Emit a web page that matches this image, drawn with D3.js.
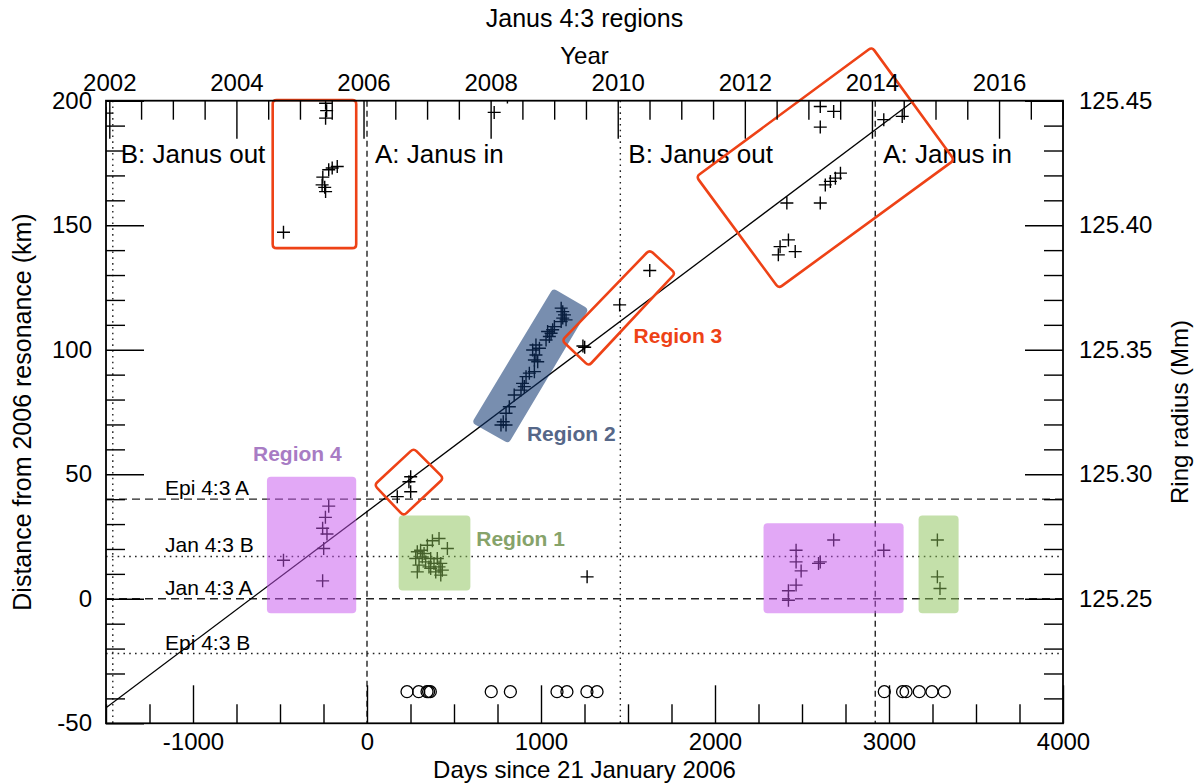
<!DOCTYPE html>
<html><head><meta charset="utf-8">
<script src="https://cdn.jsdelivr.net/npm/d3@7"></script>
<style>
body{margin:0;background:#fff}
svg text{font-family:"Liberation Sans",Arial,Helvetica,sans-serif;fill:#000}
</style>
</head><body>
<svg id="chart" width="1199" height="784"></svg>
<script>
// ---------------- DATA ----------------
const xTickMajor = [-1000, 0, 1000, 2000, 3000, 4000];
const yTickMajor = [-50, 0, 50, 100, 150, 200];
const yearTickMajor = [2002, 2004, 2006, 2008, 2010, 2012, 2014, 2016];
const radiusTickMajor = [125.25, 125.30, 125.35, 125.40, 125.45];

// crosses outside coloured regions
const plainDays = [-480,-238,-232,-238,-171,-200,-220,-254,-258,-243,-238,
  -1500, 731, 807, 1265,
  251, 241, 251, 174,
  1241, 1251, 1452, 1625,
  2605, 2682, 2605, 2721, 2692, 2663, 2634, 2605, 2413, 2422, 2374, 2461, 2364,
  2970, 3076];
const plainKm = [147.2,199,196,193,173.6,173,172.3,169.3,166.2,165.2,163.5,
  195, 195.3, 201.5, 8.8,
  49, 47, 43, 41,
  101.5, 101, 118, 131.8,
  197.7, 195.7, 189.4, 170.9, 168.9, 167.6, 166.2, 158.9, 158.9, 144.1, 141.4, 139.4, 138.1,
  192.4, 193.7];

// Region 1 crosses
const r1Days = [414,376,347,462,308,289,328,318,366,404,280,337,385,424,299,356,414,433,289,395,424,366,
  3278, 3278, 3293];
const r1Km = [24.2,23.3,21.5,20.2,19.5,18.9,18.2,16.8,16.2,16.2,16.2,14.8,14.2,14.2,13.5,12.8,12.8,11.5,10.8,10.8,9.5,12.2,
  23.6, 8.8, 4.1];

// Region 2 crosses
const r2Days = [770,799,783,799,818,846,885,904,894,914,933,962,962,981,971,952,991,971,
  1029,1048,1058,1067,1038,1077,1116,1125,1135,1125,1116,1144];
const r2Km = [69.8,69.8,71.1,74.5,77.1,81.8,83.8,85.2,86.5,89.2,90.6,91.2,95.9,95.2,97.9,99.9,100.6,101.9,
  103.9,105.3,106.6,108,107.3,109.3,111.3,112.7,114,115.3,116.7,112];

// Region 4 crosses
const r4Days = [-220,-239,-255,-230,-249,-480,-255,
  2682, 2466, 2466, 2605, 2595, 2495, 2466, 2422, 2422, 2970];
const r4Km = [37.2,32.7,28.3,26,20.2,15.5,7.2,
  23.6, 19.5, 14.8, 14.8, 14.2, 11.2, 5.5, 3.2, -0.6, 19.5];

// open circles near the bottom
const circleDays = [230,297,345,354,364,714,824,1092,1149,1264,1322,2973,3078,3098,3174,3247,3318];
const circleKm = [-37.3,-37.3,-37.3,-37.3,-37.3,-37.3,-37.3,-37.3,-37.3,-37.3,-37.3,-37.3,-37.3,-37.3,-37.3,-37.3,-37.3];

// fitted resonance-drift line (end points)
const fitDays = [-1500, 3143];
const fitKm = [-43.75, 200];

// resonance reference levels
const refNames = ["Epi 4:3 A", "Jan 4:3 B", "Jan 4:3 A", "Epi 4:3 B"];
const refKm = [40, 17, 0, -22];

// Janus/Epimetheus orbit swaps (days) and the period names following them
const swapDays = [-1461, 0, 1456, 2921];
const periodNames = ["B: Janus out", "A: Janus in", "B: Janus out", "A: Janus in"];

// region shapes (corners in days / km)
const region4aDays = [-575, -62, -62, -575];
const region4aKm = [49, 49, -5.8, -5.8];
const region4bDays = [2279, 3084, 3084, 2279];
const region4bKm = [30.3, 30.3, -5.8, -5.8];
const region1aDays = [182, 594, 594, 182];
const region1aKm = [33.4, 33.4, 3.3, 3.3];
const region1bDays = [3170, 3400, 3400, 3170];
const region1bKm = [33.4, 33.4, -5.8, -5.8];
const region2Days = [1069, 1274, 814, 603];
const region2Km = [124.7, 116.3, 62.4, 70.7];
const box3aDays = [-542, -62, -62, -542];
const box3aKm = [200.3, 200.3, 140.8, 140.8];
const box3bDays = [268, 440, 210, 42];
const box3bKm = [60.4, 48.4, 33.3, 45.7];
const box3cDays = [1624, 1772, 1274, 1121];
const box3cKm = [140.1, 130.7, 93.5, 103.7];
const box3dDays = [2902, 3375, 2366, 1893];
const box3dKm = [221.5, 176.2, 124.7, 169.5];

const regionLabels = ["Region 4", "Region 1", "Region 2", "Region 3"];
const regionLabelDays = [-655, 628, 919, 1532];
const regionLabelKm = [55.5, 21.2, 63.4, 102.7];

// ---------------- CHART ----------------
const svg = d3.select("#chart");
const L = 106, R = 1063, T = 100.7, B = 723.3;
const x = d3.scaleLinear().domain([-1500, 4000]).range([L, R]);
const y = d3.scaleLinear().domain([-50, 200]).range([B, T]);
const yr = d3.scaleLinear().domain([125.2, 125.45]).range([B, T]);
const yearToDay = v => (v - 2006.0548) * 365.25;
const FONT = "24px";
const intFmt = d => String(Math.round(d));   // plain hyphen-minus like the original

svg.append("defs").append("clipPath").attr("id", "plotclip")
  .append("rect").attr("x", L).attr("y", T).attr("width", R - L).attr("height", B - T);

const plot = svg.append("g").attr("clip-path", "url(#plotclip)");

// reference horizontal lines
refNames.forEach((n, i) => {
  plot.append("line").attr("x1", L).attr("x2", R)
    .attr("y1", y(refKm[i])).attr("y2", y(refKm[i]))
    .attr("stroke", "#222").attr("stroke-width", 1.4)
    .attr("stroke-dasharray", n.endsWith("A") ? "8,5" : "1.6,4.2");
  svg.append("text").attr("x", L + 59).attr("y", y(refKm[i]) - 4)
    .attr("font-size", "21px").text(n);
});

// swap vertical lines
swapDays.forEach((d, i) => {
  plot.append("line").attr("x1", x(d)).attr("x2", x(d)).attr("y1", T).attr("y2", B)
    .attr("stroke", "#222").attr("stroke-width", 1.4)
    .attr("stroke-dasharray", periodNames[i].startsWith("A") ? "6,4" : "1.6,4.2");
  svg.append("text").attr("x", x(d) + 8).attr("y", 162.5)
    .attr("font-size", "26px").text(periodNames[i]);
});

// fit line
plot.append("line")
  .attr("x1", x(fitDays[0])).attr("y1", y(fitKm[0]))
  .attr("x2", x(fitDays[1])).attr("y2", y(fitKm[1]))
  .attr("stroke", "#000").attr("stroke-width", 1.3);

// crosses
const allDays = plainDays.concat(r1Days, r2Days, r4Days);
const allKm = plainKm.concat(r1Km, r2Km, r4Km);
plot.selectAll("path.cross").data(allDays).enter().append("path")
  .attr("class", "cross")
  .attr("transform", (d, i) => `translate(${x(d)},${y(allKm[i])})`)
  .attr("d", "M-6.5,0H6.5M0,-6.5V6.5")
  .attr("stroke", "#000").attr("stroke-width", 1.4).attr("fill", "none");

// circles
plot.selectAll("circle.obs").data(circleDays).enter().append("circle")
  .attr("class", "obs")
  .attr("cx", d => x(d)).attr("cy", (d, i) => y(circleKm[i])).attr("r", 6)
  .attr("fill", "none").attr("stroke", "#000").attr("stroke-width", 1.3);

// rounded polygon helper
function roundedPath(days, kms, r) {
  const pts = days.map((d, i) => [x(d), y(kms[i])]);
  const n = pts.length;
  let s = "";
  for (let i = 0; i < n; i++) {
    const p0 = pts[(i - 1 + n) % n], p1 = pts[i], p2 = pts[(i + 1) % n];
    const u = (a, b) => { const dx = a[0] - b[0], dy = a[1] - b[1], l = Math.hypot(dx, dy); return [dx / l, dy / l]; };
    const v1 = u(p0, p1), v2 = u(p2, p1);
    const a = [p1[0] + v1[0] * r, p1[1] + v1[1] * r];
    const b = [p1[0] + v2[0] * r, p1[1] + v2[1] * r];
    s += (i === 0 ? "M" : "L") + a[0] + "," + a[1] + "Q" + p1[0] + "," + p1[1] + " " + b[0] + "," + b[1];
  }
  return s + "Z";
}

// coloured regions (translucent overlays)
const overlays = [
  [region4aDays, region4aKm, "#c551ed", 0.5],
  [region4bDays, region4bKm, "#c551ed", 0.5],
  [region1aDays, region1aKm, "#89c155", 0.5],
  [region1bDays, region1bKm, "#89c155", 0.5],
  [region2Days, region2Km, "#0f3570", 0.56]
];
overlays.forEach(o => {
  svg.append("path").attr("d", roundedPath(o[0], o[1], 4))
    .attr("fill", o[2]).attr("fill-opacity", o[3]).attr("stroke", "none");
});

// red boxes
[[box3aDays, box3aKm], [box3bDays, box3bKm], [box3cDays, box3cKm], [box3dDays, box3dKm]].forEach(b => {
  svg.append("path").attr("d", roundedPath(b[0], b[1], 4))
    .attr("fill", "none").attr("stroke", "#ee4216").attr("stroke-width", 2.6);
});

// region labels
const labelColors = ["#a87cc4", "#86a36a", "#566788", "#ee4216"];
regionLabels.forEach((t, i) => {
  svg.append("text").attr("x", x(regionLabelDays[i])).attr("y", y(regionLabelKm[i]))
    .attr("font-size", "21px").attr("font-weight", "bold")
    .style("fill", labelColors[i]).text(t);
});

// ---------------- AXES ----------------
function styleAxis(g) {
  g.select(".domain").remove();
  g.selectAll(".tick line").attr("stroke", "#000").attr("stroke-width", 1.4);
  g.selectAll("text").attr("font-size", FONT)
    .attr("font-family", '"Liberation Sans",Arial,Helvetica,sans-serif').style("fill", "#000");
}
const minorX = d3.range(-1500, 4001, 250).filter(v => v % 1000 !== 0);
svg.append("g").attr("transform", `translate(0,${B})`)
  .call(d3.axisBottom(x).tickValues(minorX).tickSize(-19).tickFormat(""))
  .call(styleAxis);
svg.append("g").attr("transform", `translate(0,${B})`)
  .call(d3.axisBottom(x).tickValues(xTickMajor).tickSize(-38).tickPadding(10).tickFormat(intFmt))
  .call(styleAxis);

const minorYear = d3.range(2002, 2017.01, 0.5).filter(v => v % 2 !== 0 && yearToDay(v) <= 4000);
svg.append("g").attr("transform", `translate(0,${T})`)
  .call(d3.axisTop(x).tickValues(minorYear.map(yearToDay)).tickSize(-19).tickFormat(""))
  .call(styleAxis);
svg.append("g").attr("transform", `translate(0,${T})`)
  .call(d3.axisTop(x).tickValues(yearTickMajor.map(yearToDay)).tickSize(-38).tickPadding(10)
    .tickFormat((d, i) => yearTickMajor[i]))
  .call(styleAxis);

const minorY = d3.range(-50, 201, 10).filter(v => v % 50 !== 0);
svg.append("g").attr("transform", `translate(${L},0)`)
  .call(d3.axisLeft(y).tickValues(minorY).tickSize(-19).tickFormat(""))
  .call(styleAxis);
svg.append("g").attr("transform", `translate(${L},0)`)
  .call(d3.axisLeft(y).tickValues(yTickMajor).tickSize(-38).tickPadding(14).tickFormat(intFmt))
  .call(styleAxis);

const minorR = d3.range(125.21, 125.449, 0.01).filter(v => Math.abs(Math.round(v * 20) - v * 20) > 1e-6);
svg.append("g").attr("transform", `translate(${R},0)`)
  .call(d3.axisRight(yr).tickValues(minorR).tickSize(-19).tickFormat(""))
  .call(styleAxis);
svg.append("g").attr("transform", `translate(${R},0)`)
  .call(d3.axisRight(yr).tickValues(radiusTickMajor).tickSize(-38).tickPadding(16).tickFormat(d3.format(".2f")))
  .call(styleAxis);

// frame
svg.append("rect").attr("x", L).attr("y", T).attr("width", R - L).attr("height", B - T)
  .attr("fill", "none").attr("stroke", "#000").attr("stroke-width", 1.8);

// titles
const cx = (L + R) / 2, cy = (T + B) / 2;
svg.append("text").attr("x", cx).attr("y", 27).attr("text-anchor", "middle").attr("font-size", "25px").text("Janus 4:3 regions");
svg.append("text").attr("x", cx).attr("y", 64).attr("text-anchor", "middle").attr("font-size", "24px").text("Year");
svg.append("text").attr("x", cx).attr("y", 778).attr("text-anchor", "middle").attr("font-size", "24px").text("Days since 21 January 2006");
svg.append("text").attr("transform", `translate(31,${cy}) rotate(-90)`).attr("text-anchor", "middle").attr("font-size", "25px")
  .text("Distance from 2006 resonance (km)");
svg.append("text").attr("transform", `translate(1188,${cy}) rotate(-90)`).attr("text-anchor", "middle").attr("font-size", "24px")
  .text("Ring radius (Mm)");
</script>
</body></html>
